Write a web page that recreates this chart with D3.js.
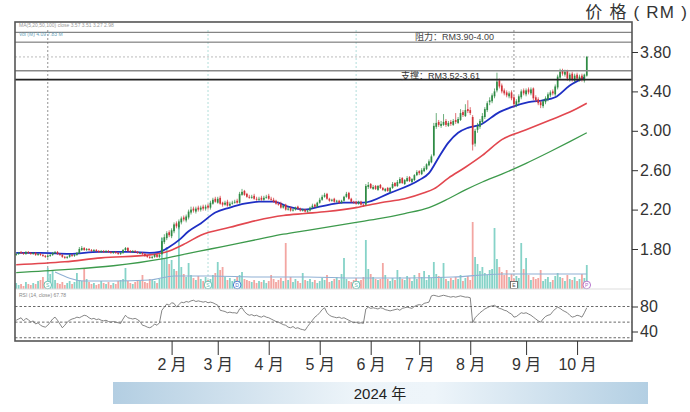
<!DOCTYPE html>
<html><head><meta charset="utf-8">
<script src="https://cdn.jsdelivr.net/npm/d3@7"></script>
<style>body{margin:0;background:#fff}svg{display:block}</style>
</head><body><svg id="c" width="690" height="412"></svg>
<script>
// ---------- data ----------
const opens = [
1.74,1.75,1.77,1.76,1.75,1.77,1.76,1.75,1.76,1.74,1.75,1.74,1.73,
1.72,1.73,1.74,1.76,1.77,1.75,1.74,1.72,
1.71,1.72,1.74,1.73,1.74,1.76,1.79,1.81,
1.79,1.80,1.79,1.78,1.79,1.78,1.77,1.78,1.77,1.78,1.77,1.76,
1.77,1.76,1.75,1.76,1.79,1.81,1.78,1.77,1.78,1.77,
1.76,1.76,1.75,1.73,1.72,1.71,1.72,1.74,1.72,
1.75,1.87,1.91,1.97,1.93,1.98,2.06,2.02,2.07,2.12,2.09,2.12,2.17,2.21,2.18,2.22,2.20,2.23,2.21,2.24,
2.22,2.26,2.31,2.27,2.32,2.27,2.25,2.28,2.24,2.26,2.27,2.29,2.27,2.35,2.39,2.36,2.33,2.32,2.34,2.31,2.30,2.32,2.30,2.32,2.34,
2.31,2.30,2.29,2.26,2.26,2.22,2.25,2.20,2.22,2.19,2.20,2.23,2.21,2.19,2.20,2.18,2.19,2.22,2.25,2.23,2.27,
2.30,2.33,2.36,2.31,2.29,2.31,2.28,2.29,2.27,2.29,2.33,2.37,2.31,2.28,2.28,2.26,2.28,2.25,
2.25,2.43,2.46,2.41,2.44,2.40,2.45,2.42,2.39,2.42,2.38,2.42,2.47,2.44,2.47,2.52,2.46,2.49,2.53,2.48,2.50,2.55,2.59,2.56,2.59,2.61,2.65,2.68,
2.75,3.04,3.09,3.05,3.06,3.10,3.05,3.09,3.06,3.11,3.08,3.11,3.19,3.15,3.22,3.21,
3.14,2.87,3.01,3.04,3.09,3.14,3.21,3.29,3.30,3.35,3.41,
3.51,3.46,3.41,3.39,3.35,3.39,3.34,3.26,3.29,3.34,3.41,3.37,3.42,3.38,
3.43,3.34,3.32,3.29,3.25,3.29,3.32,3.36,3.40,3.37,
3.44,3.54,3.61,3.57,3.61,3.52,3.58,3.51,3.57,3.52,3.56,3.51,3.56];
const closes = [
1.75,1.76,1.76,1.75,1.77,1.76,1.75,1.76,1.74,1.75,1.74,1.73,1.72,
1.73,1.74,1.76,1.77,1.75,1.74,1.72,1.71,
1.72,1.74,1.73,1.74,1.76,1.80,1.81,1.79,
1.80,1.79,1.78,1.79,1.78,1.77,1.78,1.77,1.78,1.77,1.76,1.77,
1.76,1.75,1.76,1.79,1.81,1.78,1.77,1.78,1.77,1.76,
1.76,1.75,1.73,1.72,1.71,1.72,1.74,1.72,1.74,
1.88,1.92,1.96,1.94,1.99,2.05,2.03,2.08,2.11,2.10,2.13,2.18,2.20,2.19,2.21,2.20,2.22,2.21,2.23,2.22,
2.27,2.30,2.28,2.31,2.26,2.25,2.27,2.24,2.26,2.27,2.28,2.27,2.36,2.38,2.35,2.33,2.32,2.33,2.31,2.30,2.31,2.30,2.32,2.33,2.31,
2.30,2.28,2.26,2.25,2.22,2.24,2.20,2.21,2.19,2.20,2.22,2.21,2.19,2.20,2.18,2.19,2.22,2.24,2.23,2.27,2.30,
2.33,2.35,2.31,2.29,2.30,2.28,2.29,2.27,2.29,2.33,2.36,2.31,2.28,2.27,2.26,2.28,2.25,2.24,
2.44,2.45,2.42,2.43,2.41,2.44,2.42,2.40,2.41,2.39,2.42,2.46,2.44,2.48,2.51,2.47,2.50,2.52,2.49,2.51,2.55,2.58,2.57,2.60,2.62,2.66,2.69,2.74,
3.05,3.08,3.06,3.07,3.09,3.06,3.08,3.07,3.10,3.09,3.12,3.18,3.16,3.21,3.20,3.18,
2.86,3.00,3.05,3.10,3.15,3.22,3.28,3.31,3.36,3.40,3.50,
3.45,3.40,3.38,3.36,3.38,3.33,3.27,3.30,3.35,3.40,3.38,3.41,3.39,3.42,
3.33,3.31,3.28,3.26,3.30,3.33,3.37,3.39,3.38,3.45,
3.55,3.60,3.58,3.60,3.53,3.57,3.52,3.56,3.53,3.55,3.52,3.57,3.75];
const highs = [
1.76,1.77,1.78,1.77,1.78,1.78,1.77,1.77,1.77,1.76,1.76,1.75,1.74,
1.74,1.75,1.77,1.78,1.78,1.76,1.75,1.73,
1.73,1.75,1.75,1.75,1.77,1.82,1.83,1.82,
1.81,1.81,1.80,1.80,1.80,1.79,1.79,1.79,1.79,1.79,1.78,1.78,
1.78,1.77,1.77,1.80,1.82,1.82,1.79,1.79,1.79,1.78,
1.77,1.77,1.76,1.74,1.73,1.73,1.75,1.75,1.75,
1.92,1.95,1.98,1.99,2.01,2.07,2.08,2.10,2.13,2.14,2.15,2.20,2.23,2.23,2.23,2.24,2.24,2.25,2.25,2.26,
2.29,2.32,2.33,2.33,2.34,2.28,2.29,2.30,2.28,2.29,2.30,2.31,2.38,2.41,2.40,2.37,2.35,2.35,2.36,2.33,2.33,2.34,2.34,2.35,2.36,
2.33,2.32,2.30,2.28,2.28,2.25,2.26,2.23,2.23,2.21,2.23,2.24,2.22,2.21,2.21,2.20,2.23,2.26,2.26,2.28,2.32,
2.35,2.37,2.37,2.32,2.31,2.32,2.30,2.30,2.30,2.34,2.38,2.38,2.32,2.29,2.29,2.29,2.29,2.26,
2.46,2.48,2.47,2.45,2.45,2.45,2.46,2.43,2.42,2.43,2.43,2.48,2.48,2.50,2.53,2.53,2.51,2.54,2.54,2.52,2.56,2.60,2.60,2.62,2.64,2.67,2.71,2.76,
3.08,3.18,3.11,3.10,3.17,3.12,3.10,3.11,3.12,3.18,3.14,3.22,3.21,3.27,3.31,3.24,
3.16,3.02,3.08,3.12,3.18,3.24,3.30,3.34,3.38,3.43,3.59,
3.53,3.48,3.43,3.41,3.40,3.41,3.36,3.32,3.37,3.42,3.43,3.43,3.44,3.44,
3.44,3.36,3.34,3.31,3.32,3.35,3.39,3.41,3.42,3.47,
3.57,3.63,3.63,3.62,3.62,3.59,3.60,3.58,3.59,3.57,3.58,3.58,3.76];
const lows = [
1.73,1.74,1.75,1.74,1.74,1.75,1.74,1.74,1.73,1.73,1.73,1.72,1.71,
1.71,1.72,1.73,1.75,1.74,1.73,1.71,1.70,
1.70,1.71,1.72,1.72,1.73,1.75,1.78,1.78,
1.78,1.78,1.77,1.77,1.77,1.76,1.76,1.76,1.76,1.76,1.75,1.75,
1.75,1.74,1.74,1.75,1.78,1.77,1.76,1.76,1.76,1.75,
1.75,1.74,1.72,1.71,1.70,1.70,1.71,1.71,1.71,
1.74,1.85,1.89,1.92,1.91,1.96,2.01,2.00,2.05,2.08,2.07,2.10,2.15,2.17,2.16,2.18,2.18,2.19,2.19,2.20,
2.20,2.25,2.27,2.26,2.25,2.23,2.24,2.23,2.23,2.25,2.26,2.26,2.26,2.34,2.34,2.32,2.31,2.31,2.30,2.29,2.29,2.29,2.29,2.31,2.30,
2.29,2.27,2.25,2.24,2.21,2.21,2.19,2.19,2.18,2.18,2.19,2.20,2.18,2.18,2.17,2.17,2.18,2.21,2.22,2.22,2.26,
2.29,2.32,2.30,2.28,2.28,2.27,2.27,2.26,2.26,2.28,2.32,2.30,2.27,2.26,2.25,2.25,2.24,2.23,
2.24,2.41,2.41,2.40,2.40,2.39,2.41,2.39,2.38,2.38,2.37,2.41,2.43,2.43,2.46,2.46,2.45,2.48,2.48,2.47,2.49,2.54,2.55,2.55,2.58,2.60,2.64,2.67,
2.74,3.02,3.04,3.03,3.05,3.04,3.04,3.05,3.05,3.07,3.07,3.10,3.14,3.14,3.18,3.16,
2.80,2.84,2.98,3.02,3.07,3.12,3.19,3.26,3.28,3.33,3.39,
3.43,3.38,3.36,3.34,3.33,3.31,3.24,3.24,3.27,3.32,3.36,3.35,3.37,3.36,
3.31,3.29,3.26,3.23,3.23,3.27,3.30,3.34,3.36,3.35,
3.42,3.52,3.56,3.55,3.51,3.50,3.50,3.49,3.51,3.50,3.50,3.49,3.55];
const volumes = [
6,4,5,3,7,5,4,6,5,8,9,12,7,21,15,18,9,6,5,7,
4,6,8,5,7,16,9,8,21,10,7,5,6,4,5,8,6,5,7,4,
6,5,8,9,10,21,8,6,5,7,9,8,14,7,6,10,9,8,6,10,
51,30,42,25,29,20,18,64,22,15,12,26,14,11,9,13,10,8,12,9,
10,14,16,27,19,22,12,9,11,8,10,12,14,17,10,9,8,7,9,6,
8,7,9,6,8,14,10,7,9,11,8,46,9,12,7,10,8,6,16,9,
8,10,7,9,6,8,11,9,14,7,8,10,12,9,15,31,10,8,7,9,
11,8,9,12,49,20,15,12,10,9,10,26,14,10,8,11,9,19,12,10,
9,13,11,8,14,10,16,12,18,9,14,11,27,15,13,12,26,10,8,11,
9,12,10,14,8,11,13,9,67,32,25,18,22,16,14,19,20,61,30,22,
17,14,19,12,15,10,13,11,46,20,31,14,9,12,10,11,19,8,10,12,
7,9,13,16,12,11,8,14,10,9,12,8,10,15,11,24];
const rsiValues = [
58,60,62,57,61,59,55,57,52,54,50,48,47,50,55,60,63,58,52,46,
50,55,58,60,61,63,62,64,66,65,62,60,61,59,60,58,57,58,56,55,
56,55,54,53,60,66,62,61,60,61,59,56,50,49,47,46,48,52,50,54,
74,79,84,82,86,85,79,83,87,86,88,87,89,90,88,89,88,87,88,86,
87,86,84,82,74,73,72,70,71,70,70,69,76,78,72,68,66,67,65,66,
64,63,65,63,62,60,58,56,55,53,51,50,47,46,48,45,46,44,43,42,
48,53,58,63,66,70,75,78,70,66,64,63,62,63,61,62,60,58,56,54,
55,53,54,53,76,79,77,78,77,76,78,77,75,74,73,74,75,76,74,77,
78,79,78,77,80,82,83,82,85,86,87,97,98,97,96,97,98,97,96,95,
96,95,96,97,96,95,95,94,54,62,66,70,73,76,78,80,81,82,79,77,
76,74,73,70,68,63,64,67,70,69,70,68,66,63,60,57,55,60,64,66,
67,72,76,79,77,74,72,70,66,63,64,66,65,63,70,78];

const maBlueIdx = [0,10,22,34,47,55,59,63,67,71,76,82,88,94,100,106,112,119,125,135,143,154,166,170,174,178,182,186,191,199,204,211,217,222,228,234];
const maBlue    = [1.76,1.76,1.75,1.77,1.77,1.76,1.77,1.82,1.89,1.98,2.06,2.17,2.22,2.26,2.28,2.28,2.23,2.20,2.23,2.27,2.27,2.37,2.50,2.57,2.73,2.88,2.98,3.03,3.06,3.19,3.24,3.29,3.31,3.34,3.46,3.54];
const maRedIdx  = [0,20,35,55,63,70,76,88,99,110,119,128,140,150,160,168,172,178,185,192,200,210,220,228,235];
const maRed     = [1.64,1.67,1.71,1.74,1.78,1.86,1.94,2.02,2.09,2.14,2.16,2.18,2.22,2.27,2.31,2.37,2.41,2.52,2.63,2.75,2.91,3.01,3.11,3.19,3.28];
const maGreenIdx= [0,20,40,60,70,80,90,100,110,120,130,140,150,160,170,178,185,192,200,210,220,228,235];
const maGreen   = [1.56,1.59,1.63,1.70,1.75,1.80,1.85,1.90,1.95,1.99,2.03,2.07,2.11,2.16,2.22,2.31,2.40,2.48,2.56,2.67,2.79,2.89,2.98];
const volMaIdx  = [16,28,40,55,65,80,100,120,140,160,180,200,220,235];
const volMa     = [17,8,8,9,13,13,12,12,11,11,12,15,15,15];

const priceTicks = [3.80,3.40,3.00,2.60,2.20,1.80];
const rsiTicks = [80,40];
const rsiLevels = [80,55,30];
const monthIdx = [64,83,104,125,146,166,187,210,231];
const monthLabels = ["2 月","3 月","4 月","5 月","6 月","7 月","8 月","9 月","10 月"];
const resistance = [3.90,4.00];
const support = [3.52,3.61];
const lastPrice = 3.75;
const eventIdx = [13,79,140,205];
const markerIdx = [13,79,91,140,205,235];
const markerText = ["S","S","D","S","E","P"];
const yearLabel = "2024 年";
const title = "价 格 ( RM )";

// ---------- drawing ----------
const svg = d3.select("#c");
const N = closes.length;
const L = 15, R = 632, T = 22, B = 341, PB = 289;
const x = d3.scaleLinear().domain([-0.5, N-0.5]).range([15, 588]);
const y = d3.scaleLinear().domain([1.80, 3.80]).range([249, 52]);
const yv = d3.scaleLinear().domain([0, 80]).range([PB, PB-80]);
const yr = d3.scaleLinear().domain([20, 100]).range([344, 294]);
const FONT = "'Liberation Sans', Arial, 'Noto Sans CJK SC', sans-serif";

const defs = svg.append("defs");
defs.append("clipPath").attr("id","pc").append("rect").attr("x",L).attr("y",T).attr("width",R-L).attr("height",PB-T);
defs.append("clipPath").attr("id","rc").append("rect").attr("x",L).attr("y",PB).attr("width",R-L).attr("height",B-PB);
const g = defs.append("linearGradient").attr("id","band");
[["0%","#b3cee2"],["45%","#edf4f9"],["60%","#eef5fa"],["100%","#b3cfe3"]].forEach(s=>g.append("stop").attr("offset",s[0]).attr("stop-color",s[1]));

// title
svg.append("text").attr("x",688).attr("y",18).attr("text-anchor","end")
  .attr("font-family",FONT).attr("font-size",17).attr("letter-spacing",1.2).attr("fill","#333").text(title);

const P = svg.append("g").attr("clip-path","url(#pc)");

// event dotted verticals
P.selectAll(".ev").data(eventIdx).join("line")
  .attr("x1",d=>x(d)).attr("x2",d=>x(d)).attr("y1",30).attr("y2",PB)
  .attr("stroke",(d,i)=> (i===1||i===2)?"#9fd6d2":"#777").attr("stroke-width",0.8).attr("stroke-dasharray","2,2");

// last price dotted line
P.append("line").attr("x1",L).attr("x2",R).attr("y1",y(lastPrice)).attr("y2",y(lastPrice))
  .attr("stroke","#aaa").attr("stroke-width",0.8).attr("stroke-dasharray","2,2");

// volumes
P.selectAll(".vb").data(volumes).join("rect")
  .attr("x",(d,i)=>x(i)-0.9).attr("width",1.8)
  .attr("y",d=>yv(d)).attr("height",d=>PB-yv(d))
  .attr("fill",(d,i)=> closes[i]>=opens[i] ? "#86d3c8" : "#f3a6a2");
P.append("path").datum(volMaIdx.map((d,i)=>[d,volMa[i]]))
  .attr("d",d3.line().x(d=>x(d[0])).y(d=>yv(d[1])).curve(d3.curveMonotoneX))
  .attr("fill","none").attr("stroke","#8fb0d4").attr("stroke-width",1.1);

// MA lines
function maPath(idx, vals, color, w){
  P.append("path").datum(idx.map((d,i)=>[d,vals[i]]))
   .attr("d",d3.line().x(d=>x(d[0])).y(d=>y(d[1])).curve(d3.curveMonotoneX))
   .attr("fill","none").attr("stroke",color).attr("stroke-width",w);
}
maPath(maGreenIdx, maGreen, "#3d9a4c", 1.3);
maPath(maRedIdx, maRed, "#e2474f", 1.6);
maPath(maBlueIdx, maBlue, "#1f2fc4", 1.8);

// candles
const cd = closes.map((c,i)=>({i,o:opens[i],h:highs[i],l:lows[i],c}));
const col = d=> d.c>=d.o ? "#2f8b45" : "#d2333a";
P.selectAll(".wk").data(cd).join("line")
  .attr("x1",d=>x(d.i)).attr("x2",d=>x(d.i)).attr("y1",d=>y(d.h)).attr("y2",d=>y(d.l))
  .attr("stroke",col).attr("stroke-width",0.7);
P.selectAll(".bd").data(cd).join("rect")
  .attr("x",d=>x(d.i)-0.85).attr("width",1.7)
  .attr("y",d=>y(Math.max(d.o,d.c))).attr("height",d=>Math.max(0.8,Math.abs(y(d.o)-y(d.c))))
  .attr("fill",col);

// markers
const mcol = ["#5cbcae","#5cbcae","#3d6fd0","#5cbcae","#555","#b06ac8"];
const mk = svg.append("g");
markerIdx.forEach((d,i)=>{
  if(markerText[i]==="E"){
    mk.append("rect").attr("x",x(d)-3.5).attr("y",281.5).attr("width",7).attr("height",7)
      .attr("fill","#fff").attr("stroke",mcol[i]).attr("stroke-width",0.8);
  } else {
    mk.append("circle").attr("cx",x(d)).attr("cy",285).attr("r",3.8)
      .attr("fill","#fff").attr("stroke",mcol[i]).attr("stroke-width",0.9);
  }
  mk.append("text").attr("x",x(d)).attr("y",287).attr("text-anchor","middle")
    .attr("font-family",FONT).attr("font-size",5).attr("fill",mcol[i]).text(markerText[i]);
});

// resistance / support lines
const lv = svg.append("g");
resistance.forEach(v=> lv.append("line").attr("x1",L).attr("x2",R).attr("y1",y(v)).attr("y2",y(v))
  .attr("stroke","#666").attr("stroke-width",1));
lv.append("line").attr("x1",L).attr("x2",R).attr("y1",y(support[1])).attr("y2",y(support[1])).attr("stroke","#888").attr("stroke-width",1.6);
lv.append("line").attr("x1",L).attr("x2",R).attr("y1",y(support[0])).attr("y2",y(support[0])).attr("stroke","#222").attr("stroke-width",1.8);
svg.append("text").attr("x",415).attr("y",(y(resistance[0])+y(resistance[1]))/2+3)
  .attr("font-family",FONT).attr("font-size",9).attr("fill","#444")
  .text("阻力：RM"+resistance[0].toFixed(2)+"-"+resistance[1].toFixed(2));
svg.append("text").attr("x",401).attr("y",(y(support[0])+y(support[1]))/2+3.5)
  .attr("font-family",FONT).attr("font-size",9).attr("fill","#333")
  .text("支撑：RM"+support[0].toFixed(2)+"-"+support[1].toFixed(2));

// header tiny legend text
const hd = svg.append("g").attr("font-family",FONT).attr("font-size",5).attr("fill","#999");
hd.append("text").attr("x",19).attr("y",27).text("MA(5,20,50,100) close  3.57  3.51  3.27  2.98");
hd.append("text").attr("x",19).attr("y",35.5).attr("fill","#6a9fb8").text("Vol (M)  4.09  7.83 M");

// RSI panel
svg.append("line").attr("x1",L).attr("x2",R).attr("y1",PB).attr("y2",PB).attr("stroke","#ddd").attr("stroke-width",1);
const RG = svg.append("g").attr("clip-path","url(#rc)");
RG.selectAll(".lvl").data(rsiLevels).join("line")
  .attr("x1",L).attr("x2",R).attr("y1",d=>yr(d)).attr("y2",d=>yr(d))
  .attr("stroke","#444").attr("stroke-width",0.8).attr("stroke-dasharray","2.5,2");
RG.append("path").datum(rsiValues)
  .attr("d",d3.line().x((d,i)=>x(i)).y(d=>yr(d)))
  .attr("fill","none").attr("stroke","#666").attr("stroke-width",0.8);
svg.append("text").attr("x",19).attr("y",297).attr("font-family",FONT).attr("font-size",5).attr("fill","#888").text("RSI (14, close) 67.78");

// frame
svg.append("rect").attr("x",L).attr("y",T).attr("width",R-L).attr("height",B-T)
  .attr("fill","none").attr("stroke","#555").attr("stroke-width",1.6);

// axes
function styleAxis(sel, fs){
  sel.select(".domain").remove();
  sel.selectAll(".tick line").attr("stroke","#333").attr("stroke-width",1);
  sel.selectAll(".tick text").attr("fill","#333").attr("font-family",FONT).attr("font-size",fs);
}
svg.append("g").attr("transform",`translate(${R},0)`)
  .call(d3.axisRight(y).tickValues(priceTicks).tickSize(6).tickPadding(2).tickFormat(d3.format(".2f")))
  .call(s=>styleAxis(s,16));
svg.append("g").attr("transform",`translate(${R},0)`)
  .call(d3.axisRight(yr).tickValues(rsiTicks).tickSize(6).tickPadding(2))
  .call(s=>styleAxis(s,16));
svg.append("g").attr("transform",`translate(0,${B})`)
  .call(d3.axisBottom(x).tickValues(monthIdx).tickSize(14).tickPadding(4).tickFormat((d,i)=>monthLabels[i]))
  .call(s=>styleAxis(s,16));

// year band
svg.append("rect").attr("x",113).attr("y",382).attr("width",535).attr("height",22).attr("fill","url(#band)");
svg.append("text").attr("x",380).attr("y",398.5).attr("text-anchor","middle")
  .attr("font-family",FONT).attr("font-size",15).attr("fill","#222").text(yearLabel);
</script>
</body></html>
